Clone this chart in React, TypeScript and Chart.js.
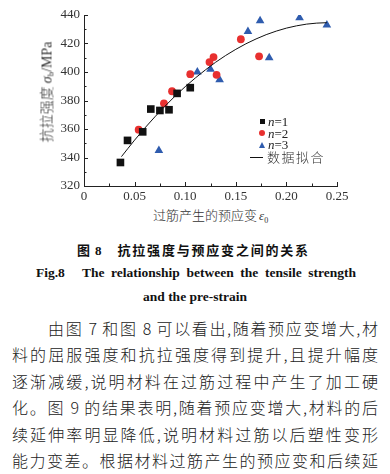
import React, { useEffect, useRef } from "react";
import { Chart, registerables } from "chart.js";
Chart.register(...registerables);

// n = 1 (black squares)
const n1X = [0.036, 0.043, 0.058, 0.066, 0.075, 0.084, 0.092, 0.105];
const n1Y = [336.5, 352, 358, 374, 373, 373.5, 385, 389];
// n = 2 (red circles)
const n2X = [0.054, 0.079, 0.087, 0.105, 0.124, 0.128, 0.131, 0.155, 0.173];
const n2Y = [359.5, 378, 386.5, 398.5, 407, 410.5, 398, 423, 411];
// n = 3 (blue triangles)
const n3X = [0.074, 0.112, 0.125, 0.134, 0.162, 0.174, 0.183, 0.213, 0.24];
const n3Y = [345, 400, 402, 394.5, 428.5, 436, 410, 438, 433];
// fitted curve
const fitX = [0.037, 0.05, 0.06, 0.07, 0.08, 0.09, 0.1, 0.11, 0.12, 0.13, 0.14, 0.15, 0.16, 0.17, 0.18, 0.19, 0.2, 0.21, 0.22, 0.23, 0.24];
const fitY = [340.6, 352.2, 360.6, 368.5, 376.0, 383.1, 389.7, 395.8, 401.5, 406.8, 411.6, 415.9, 419.8, 423.2, 426.2, 428.7, 430.8, 432.4, 433.6, 434.3, 434.6];

const xTickValues = [0, 0.05, 0.1, 0.15, 0.2, 0.25];
const xTickLabels = ["0", "0.05", "0.10", "0.15", "0.20", "0.25"];
const yTickValues = [320, 340, 360, 380, 400, 420, 440];
const yTickLabels = ["320", "340", "360", "380", "400", "420", "440"];

const legendLabels = ["1", "2", "3"];
const fitLabel = "数据拟合";

const paragraphLines = [
  "由图 7 和图 8 可以看出,随着预应变增大,材",
  "料的屈服强度和抗拉强度得到提升,且提升幅度",
  "逐渐减缓,说明材料在过筋过程中产生了加工硬",
  "化。图 9 的结果表明,随着预应变增大,材料的后",
  "续延伸率明显降低,说明材料过筋以后塑性变形",
  "能力变差。根据材料过筋产生的预应变和后续延",
];

const COLORS = { n1: "#111111", n2: "#e8302f", n3: "#2f5cae", axis: "#222222" };

const innerTicks = {
  id: "innerTicks",
  afterDraw(chart: any) {
    const { ctx, chartArea } = chart;
    const xs = chart.scales.x;
    const ys = chart.scales.y;
    ctx.save();
    ctx.strokeStyle = COLORS.axis;
    ctx.lineWidth = 1;
    const line = (x1: number, y1: number, x2: number, y2: number) => {
      ctx.beginPath();
      ctx.moveTo(x1, y1);
      ctx.lineTo(x2, y2);
      ctx.stroke();
    };
    for (let i = 0; i < xTickValues.length; i++) {
      const px = Math.round(xs.getPixelForValue(xTickValues[i])) + 0.5;
      line(px, chartArea.bottom, px, chartArea.bottom - 4);
      if (i < xTickValues.length - 1) {
        const mx = Math.round(xs.getPixelForValue((xTickValues[i] + xTickValues[i + 1]) / 2)) + 0.5;
        line(mx, chartArea.bottom, mx, chartArea.bottom - 2.5);
      }
    }
    for (let i = 0; i < yTickValues.length; i++) {
      const py = Math.round(ys.getPixelForValue(yTickValues[i])) + 0.5;
      line(chartArea.left, py, chartArea.left + 4, py);
      if (i < yTickValues.length - 1) {
        const my = Math.round(ys.getPixelForValue((yTickValues[i] + yTickValues[i + 1]) / 2)) + 0.5;
        line(chartArea.left, my, chartArea.left + 2.5, my);
      }
    }
    ctx.restore();
  },
};

const CJK = '"Noto Sans CJK SC", "Noto Sans", sans-serif';
const SERIF = '"Liberation Serif", "DejaVu Serif", serif';

export default function App() {
  const ref = useRef<HTMLCanvasElement | null>(null);

  useEffect(() => {
    document.body.style.margin = "0";
    const canvas = ref.current;
    if (!canvas) return;
    const pts = (xs: number[], ys: number[]) => xs.map((x, i) => ({ x, y: ys[i] }));
    const chart = new Chart(canvas, {
      type: "scatter",
      data: {
        datasets: [
          {
            type: "line",
            label: fitLabel,
            data: pts(fitX, fitY),
            borderColor: "#111",
            borderWidth: 1,
            pointRadius: 0,
            cubicInterpolationMode: "monotone",
            fill: false,
          } as any,
          {
            label: "n=1",
            data: pts(n1X, n1Y),
            pointStyle: "rect",
            pointRadius: 5.4,
            backgroundColor: COLORS.n1,
            borderColor: COLORS.n1,
            borderWidth: 0,
          },
          {
            label: "n=2",
            data: pts(n2X, n2Y),
            pointStyle: "circle",
            pointRadius: 3.9,
            backgroundColor: COLORS.n2,
            borderColor: COLORS.n2,
            borderWidth: 0,
          },
          {
            label: "n=3",
            data: pts(n3X, n3Y),
            pointStyle: "triangle",
            pointRadius: 5,
            backgroundColor: COLORS.n3,
            borderColor: COLORS.n3,
            borderWidth: 0,
          },
        ],
      },
      options: {
        animation: false,
        responsive: false,
        devicePixelRatio: 1,
        layout: { padding: { top: 15, right: 53, left: 0, bottom: 0 } },
        plugins: { legend: { display: false }, tooltip: { enabled: false } },
        scales: {
          x: {
            type: "linear",
            min: 0,
            max: 0.25,
            grid: { display: false, drawTicks: false },
            border: { display: true, color: COLORS.axis, width: 1 },
            afterBuildTicks: (s: any) => {
              s.ticks = xTickValues.map((v) => ({ value: v }));
            },
            afterFit: (s: any) => {
              s.height = 19;
            },
            ticks: {
              padding: 3,
              color: "#333",
              font: { family: SERIF, size: 13 },
              maxRotation: 0,
              callback: (v: any, i: number) => xTickLabels[i],
            },
          },
          y: {
            type: "linear",
            min: 320,
            max: 440,
            grid: { display: false, drawTicks: false },
            border: { display: true, color: COLORS.axis, width: 1 },
            afterBuildTicks: (s: any) => {
              s.ticks = yTickValues.map((v) => ({ value: v }));
            },
            afterFit: (s: any) => {
              s.width = 84;
            },
            ticks: {
              padding: 4,
              color: "#333",
              font: { family: SERIF, size: 13 },
              callback: (v: any, i: number) => yTickLabels[i],
            },
          },
        },
      },
      plugins: [innerTicks],
    });
    return () => chart.destroy();
  }, []);

  const abs = (s: React.CSSProperties): React.CSSProperties => ({ position: "absolute", whiteSpace: "nowrap", ...s });
  const marker = (s: React.CSSProperties): React.CSSProperties => ({ display: "inline-block", ...s });

  return (
    <div style={{ position: "relative", width: 390, height: 474, overflow: "hidden", background: "#fff", color: "#222" }}>
      <canvas ref={ref} width={390} height={205} style={{ position: "absolute", left: 0, top: 0, width: 390, height: 205, display: "block" }} />

      {/* y axis title */}
      <div
        style={abs({
          left: 48,
          top: 92,
          transform: "translate(-50%, -50%) rotate(-90deg)",
          fontFamily: CJK,
          fontSize: 14,
          fontWeight: 300,
          lineHeight: "16px",
          color: "#333",
        })}
      >
        抗拉强度
        <span style={{ fontFamily: SERIF, fontStyle: "italic", marginLeft: 3 }}>σ</span>
        <sub style={{ fontFamily: SERIF, fontSize: 9, verticalAlign: "-2px" }}>b</sub>
        <span style={{ fontFamily: SERIF }}>/MPa</span>
      </div>

      {/* legend */}
      <div style={abs({ left: 258, top: 116, fontFamily: SERIF, fontSize: 13, lineHeight: "11.5px", color: "#222" })}>
        {legendLabels.map((l, i) => (
          <div key={l} style={{ height: 11.5, display: "flex", alignItems: "center" }}>
            <span style={{ width: 8, display: "inline-flex", justifyContent: "center", marginRight: 2 }}>
              {i === 0 && <span style={marker({ width: 5, height: 5, background: COLORS.n1 })} />}
              {i === 1 && <span style={marker({ width: 6, height: 6, borderRadius: 3, background: COLORS.n2 })} />}
              {i === 2 && (
                <span
                  style={marker({
                    width: 0,
                    height: 0,
                    borderLeft: "3.5px solid transparent",
                    borderRight: "3.5px solid transparent",
                    borderBottom: `6px solid ${COLORS.n3}`,
                  })}
                />
              )}
            </span>
            <span style={{ fontStyle: "italic" }}>n</span>
            <span>={l}</span>
          </div>
        ))}
      </div>
      <div style={abs({ left: 250, top: 149, display: "flex", alignItems: "center", fontFamily: CJK, fontSize: 13, fontWeight: 300, lineHeight: "16px", color: "#333" })}>
        <span style={{ display: "inline-block", width: 13, height: 1, background: "#111", marginRight: 4 }} />
        <span style={{ letterSpacing: 1.5 }}>{fitLabel}</span>
      </div>

      {/* x axis title */}
      <div style={abs({ left: 153, top: 206, fontFamily: CJK, fontSize: 13, fontWeight: 300, lineHeight: "18px", color: "#333" })}>
        过筋产生的预应变
        <span style={{ fontFamily: SERIF, fontStyle: "italic", marginLeft: 2 }}>ε</span>
        <sub style={{ fontFamily: SERIF, fontSize: 8, verticalAlign: "-3px" }}>0</sub>
      </div>

      {/* captions */}
      <div style={abs({ left: 77, top: 241, fontFamily: CJK, fontSize: 13, fontWeight: 700, lineHeight: "18px", color: "#111" })}>
        <span>图</span>
        <span style={{ fontFamily: SERIF, marginLeft: 5 }}>8</span>
        <span style={{ marginLeft: 16, letterSpacing: 1.8 }}>抗拉强度与预应变之间的关系</span>
      </div>
      <div style={abs({ left: 36, top: 264, fontFamily: SERIF, fontSize: 13.5, fontWeight: 700, lineHeight: "18px", color: "#111" })}>
        Fig.8
      </div>
      <div
        style={{
          position: "absolute",
          left: 82,
          top: 264,
          width: 274,
          fontFamily: SERIF,
          fontSize: 13.5,
          fontWeight: 700,
          lineHeight: "18px",
          color: "#111",
          textAlign: "justify",
          textAlignLast: "justify" as any,
        }}
      >
        The relationship between the tensile strength
      </div>
      <div style={abs({ left: 0, width: 390, textAlign: "center", top: 288, fontFamily: SERIF, fontSize: 13.5, fontWeight: 700, lineHeight: "18px", color: "#111" })}>
        and the pre-strain
      </div>

      {/* paragraph */}
      {paragraphLines.map((t, i) => (
        <div
          key={i}
          style={{
            position: "absolute",
            left: i === 0 ? 48 : 12,
            width: i === 0 ? 330 : 366,
            top: 317 + i * 26.4,
            fontFamily: CJK,
            fontSize: 16,
            fontWeight: 300,
            lineHeight: "22px",
            color: "#222",
            textAlign: "justify",
            textAlignLast: "justify" as any,
            whiteSpace: "nowrap",
          }}
        >
          {t}
        </div>
      ))}
    </div>
  );
}
